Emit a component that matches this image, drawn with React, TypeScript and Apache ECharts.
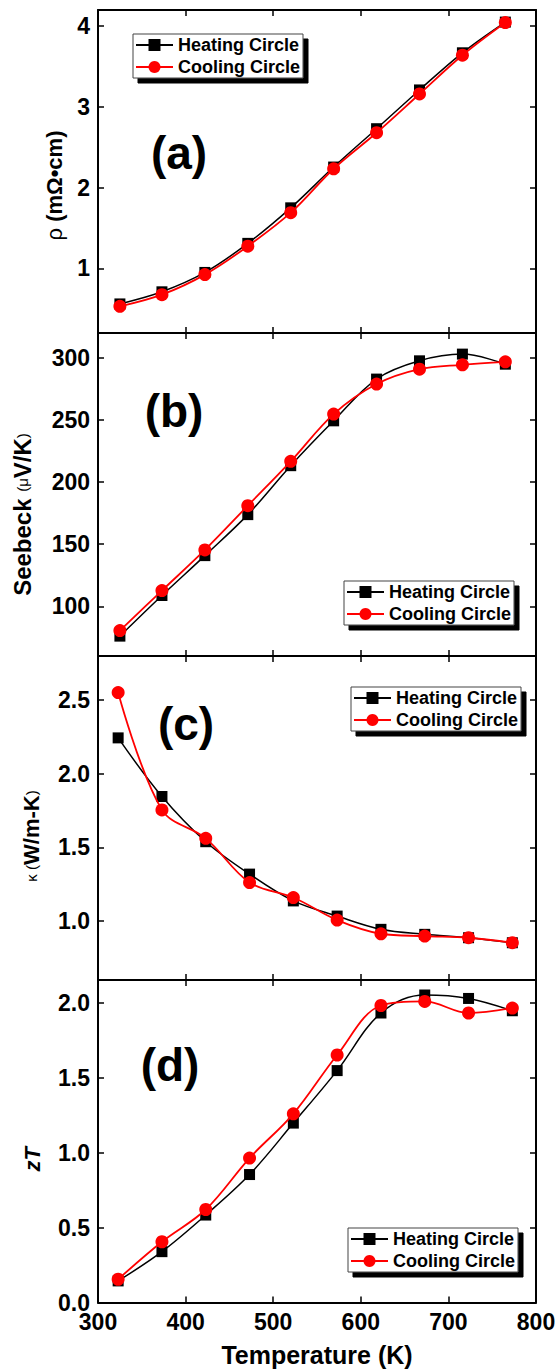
import React, { useEffect, useRef } from "react";
import * as echarts from "echarts";

// ---- data ----
const tempsAB = [325, 373, 422, 471, 520, 569, 618, 667, 716, 765];
const tempsCD = [323, 373, 423, 473, 523, 573, 623, 673, 723, 773];

const rhoHeating = [0.56, 0.71, 0.95, 1.31, 1.75, 2.255, 2.73, 3.21, 3.67, 4.05];
const rhoCooling = [0.53, 0.675, 0.923, 1.275, 1.69, 2.234, 2.68, 3.16, 3.64, 4.045];
const seebeckHeating = [76, 108.7, 140.8, 173.8, 213.2, 249.3, 282.9, 297.6, 303, 294.9];
const seebeckCooling = [80.5, 112.7, 145.4, 181, 216.7, 254.7, 278.9, 290.9, 294.4, 296.8];
const kappaHeating = [2.244, 1.846, 1.539, 1.319, 1.137, 1.034, 0.944, 0.91, 0.887, 0.853];
const kappaCooling = [2.552, 1.755, 1.562, 1.262, 1.16, 1.007, 0.914, 0.898, 0.887, 0.853];
const ztHeating = [0.144, 0.339, 0.583, 0.853, 1.196, 1.546, 1.93, 2.05, 2.027, 1.945];
const ztCooling = [0.155, 0.405, 0.62, 0.963, 1.258, 1.65, 1.98, 2.007, 1.93, 1.963];

const seriesNames = ["Heating Circle", "Cooling Circle"];
const panelLabels = ["(a)", "(b)", "(c)", "(d)"];
const xTicks = [300, 400, 500, 600, 700, 800];
const rhoTicks = [1, 2, 3, 4];
const seebeckTicks = [100, 150, 200, 250, 300];
const kappaTicks = [1.0, 1.5, 2.0, 2.5];
const ztTicks = [0, 0.5, 1.0, 1.5, 2.0];
const xTitle = "Temperature (K)";

const FONT = "'Liberation Sans', Arial, Helvetica, sans-serif";

export default function App() {
  const ref = useRef<HTMLDivElement>(null);

  useEffect(() => {
    document.body.style.margin = "0";
    if (!ref.current) return;
    const chart = echarts.init(ref.current, null, { renderer: "svg" });

    const panels = [
      {
        temps: tempsAB, heat: rhoHeating, cool: rhoCooling, ticks: rhoTicks,
        min: 0.2, max: 4.2, dec: 0,
        name: "{r|ρ }{b|(mΩ•cm)}",
        rich: { r: { fontSize: 22, fontWeight: "normal", fontFamily: FONT, color: "#000" }, b: { fontSize: 22, fontWeight: "bold", fontFamily: FONT, color: "#000" } },
        nameGap: 33, shift: 14,
        top: 10, height: 323,
        legend: { left: 133, top: 34 },
        label: { x: 179, y: 153 },
      },
      {
        temps: tempsAB, heat: seebeckHeating, cool: seebeckCooling, ticks: seebeckTicks,
        min: 60, max: 320, dec: 0,
        name: "{b|Seebeck }{s|(μ}{b|V/K}{s|)}",
        rich: { b: { fontSize: 24, fontWeight: "bold", fontFamily: FONT, color: "#000" }, s: { fontSize: 15, fontWeight: "normal", fontFamily: FONT, color: "#000" } },
        nameGap: 64, shift: 20,
        top: 333, height: 323,
        legend: { left: 344, top: 581 },
        label: { x: 174, y: 411 },
      },
      {
        temps: tempsCD, heat: kappaHeating, cool: kappaCooling, ticks: kappaTicks,
        min: 0.6, max: 2.8, dec: 1,
        name: "{s|κ (}{b|W/m-K}{s|)}",
        rich: { b: { fontSize: 22, fontWeight: "bold", fontFamily: FONT, color: "#000" }, s: { fontSize: 15, fontWeight: "normal", fontFamily: FONT, color: "#000" } },
        nameGap: 56, shift: 18,
        top: 656, height: 324,
        legend: { left: 351, top: 687 },
        label: { x: 186, y: 724 },
      },
      {
        temps: tempsCD, heat: ztHeating, cool: ztCooling, ticks: ztTicks,
        min: 0, max: 2.15, dec: 1,
        name: "{i|zT}",
        rich: { i: { fontSize: 22, fontWeight: "bold", fontStyle: "italic", fontFamily: FONT, color: "#000" } },
        nameGap: 55, shift: 18,
        top: 980, height: 322.5,
        legend: { left: 348, top: 1228 },
        label: { x: 170, y: 1065 },
      },
    ];

    const axisLine = { show: true, onZero: false, lineStyle: { color: "#000", width: 2 } };
    const tickStyle = { color: "#000", width: 1.5 };
    const labelStyle = { color: "#000", fontSize: 23, fontWeight: "bold" as const, fontFamily: FONT };

    const grid: any[] = [];
    const xAxis: any[] = [];
    const yAxis: any[] = [];
    const series: any[] = [];
    const legend: any[] = [];
    const graphic: any[] = [];

    panels.forEach((p, i) => {
      grid.push({ left: 98, width: 438, top: p.top, height: p.height, outerBoundsMode: "none", containLabel: false });
      const isLast = i === panels.length - 1;
      xAxis.push({
        type: "value", gridIndex: i, position: "bottom", min: xTicks[0], max: xTicks[xTicks.length - 1], interval: 100,
        axisLine, axisTick: { show: true, inside: true, length: 6, lineStyle: tickStyle, customValues: xTicks },
        axisLabel: { show: isLast, margin: 8, customValues: xTicks, ...labelStyle },
        splitLine: { show: false },
        name: isLast ? xTitle : "", nameLocation: "middle", nameGap: 40,
        nameTextStyle: { color: "#000", fontSize: 25, fontWeight: "bold", fontFamily: FONT },
      });
      xAxis.push({
        type: "value", gridIndex: i, position: "top", min: xTicks[0], max: xTicks[xTicks.length - 1], interval: 100,
        axisLine, axisTick: { show: true, inside: true, length: 6, lineStyle: tickStyle, customValues: xTicks },
        axisLabel: { show: false }, splitLine: { show: false },
      });
      yAxis.push({
        type: "value", gridIndex: i, position: "left", min: p.min, max: p.max,
        axisLine,
        axisTick: { show: true, inside: true, length: 6, lineStyle: tickStyle, customValues: p.ticks },
        axisLabel: { show: true, margin: 8, customValues: p.ticks, formatter: (v: number) => v.toFixed(p.dec), ...labelStyle },
        splitLine: { show: false },
        name: p.name, nameLocation: "middle", nameRotate: 90, nameGap: p.nameGap,
        nameTextStyle: { rich: p.rich, padding: [0, p.shift * 2, 0, 0] },
      });
      yAxis.push({
        type: "value", gridIndex: i, position: "right", min: p.min, max: p.max,
        axisLine,
        axisTick: { show: true, inside: true, length: 6, lineStyle: tickStyle, customValues: p.ticks },
        axisLabel: { show: false, customValues: p.ticks }, splitLine: { show: false },
      });
      series.push({
        type: "line", name: seriesNames[0], xAxisIndex: 2 * i, yAxisIndex: 2 * i,
        data: p.temps.map((t, j) => [t, p.heat[j]]),
        smooth: 0.35, symbol: "rect", symbolSize: 11,
        lineStyle: { color: "#000", width: 1.5 }, itemStyle: { color: "#000" },
        z: 2,
      });
      series.push({
        type: "line", name: seriesNames[1], xAxisIndex: 2 * i, yAxisIndex: 2 * i,
        data: p.temps.map((t, j) => [t, p.cool[j]]),
        smooth: 0.35, symbol: "circle", symbolSize: 13,
        lineStyle: { color: "#ff0000", width: 1.8 }, itemStyle: { color: "#ff0000" },
        z: 3,
      });
      legend.push({
        data: seriesNames, orient: "vertical", left: p.legend.left, top: p.legend.top,
        itemWidth: 37, itemHeight: 15, itemGap: 4, padding: [2, 3, 2, 2],
        backgroundColor: "#fff", borderColor: "#444", borderWidth: 1,
        shadowColor: "#000", shadowBlur: 0, shadowOffsetX: 5, shadowOffsetY: 5,
        selectedMode: false,
        textStyle: { color: "#000", fontSize: 18, fontWeight: "bold", fontFamily: FONT },
      });
      graphic.push({
        type: "text", x: p.label.x, y: p.label.y, z: 10,
        style: {
          text: panelLabels[i], fill: "#000",
          font: `bold 46px ${FONT}`,
          textAlign: "center", textVerticalAlign: "middle",
        },
      });
    });

    chart.setOption({
      animation: false,
      backgroundColor: "#fff",
      textStyle: { fontFamily: FONT },
      grid, xAxis, yAxis, series, legend, graphic,
    });

    return () => chart.dispose();
  }, []);

  return <div ref={ref} style={{ width: 558, height: 1371 }} />;
}
